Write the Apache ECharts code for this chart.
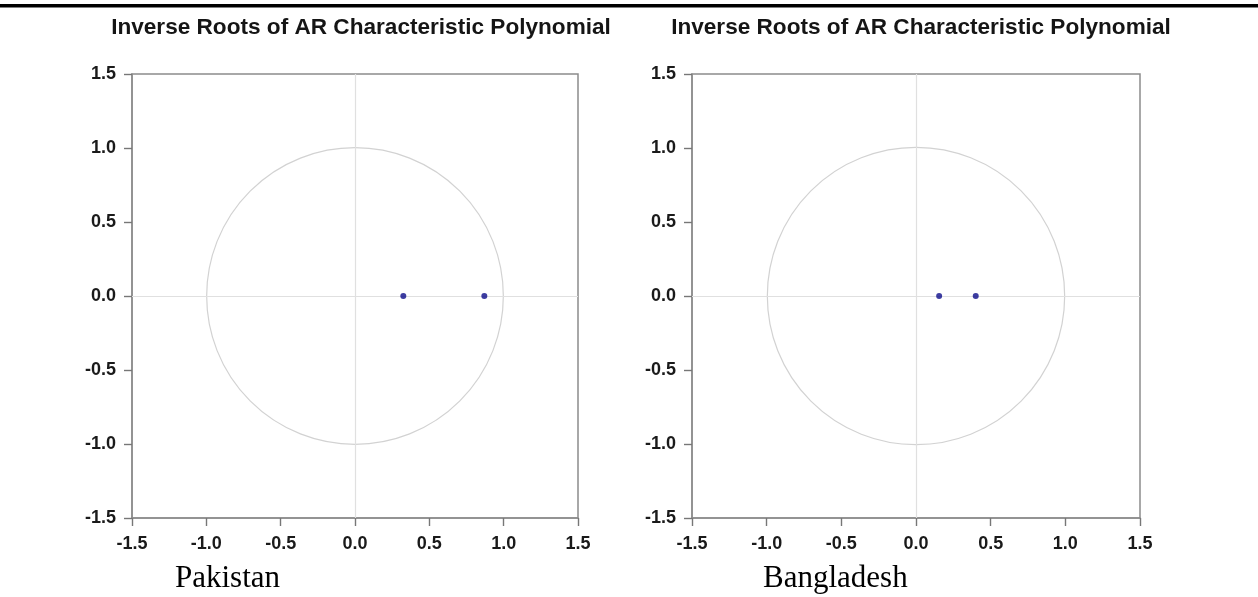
<!DOCTYPE html>
<html lang="en">
<head>
	<meta charset="UTF-8">
	<title>Inverse Roots of AR Characteristic Polynomial</title>
	<style>
		html, body { margin: 0; padding: 0; background: #fff; }
		#chart { width: 1258px; height: 597px; }
	</style>
</head>
<body>
	<div id="chart"></div>
	<script src="https://cdn.jsdelivr.net/npm/echarts@6/dist/echarts.min.js"></script>
	<script>
		// data
		var panelTitle = 'Inverse Roots of AR Characteristic Polynomial';
		var countries = ['Pakistan', 'Bangladesh'];
		var tickValues = [-1.5, -1.0, -0.5, 0.0, 0.5, 1.0, 1.5];
		var tickLabels = ['-1.5', '-1.0', '-0.5', '0.0', '0.5', '1.0', '1.5'];
		var pakistanRoots = [[0.325, 0], [0.87, 0]];
		var bangladeshRoots = [[0.155, 0], [0.40, 0]];
		var unitCircle = [[0, 0, 1]]; // centre x, centre y, radius

		var frameColor = '#8c8c8c';
		var grids = [
			{ left: 132, top: 74, width: 446, height: 444 },
			{ left: 692, top: 74, width: 448, height: 444 }
		];

		function fmt(v) {
			var i = tickValues.indexOf(Math.round(v * 10) / 10);
			return i >= 0 ? tickLabels[i] : '';
		}

		function axis(idx, isX) {
			return {
				type: 'value',
				gridIndex: idx,
				min: -1.5, max: 1.5, interval: 0.5,
				axisLine: { show: true, onZero: false, lineStyle: { color: frameColor, width: 1.5 } },
				axisTick: { show: true, length: 8, lineStyle: { color: '#777', width: 1.4 } },
				splitLine: { show: false },
				axisLabel: {
					formatter: fmt,
					color: '#1a1a1a',
					fontSize: 18,
					fontWeight: 'bold',
					fontFamily: 'Liberation Sans, Arial, sans-serif',
					margin: isX ? 17 : 16
				}
			};
		}

		function circleSeries(idx) {
			return {
				type: 'custom',
				xAxisIndex: idx, yAxisIndex: idx,
				silent: true,
				data: unitCircle,
				renderItem: function (params, api) {
					var c = api.coord([api.value(0), api.value(1)]);
					var s = api.size([api.value(2), api.value(2)]);
					return {
						type: 'circle',
						shape: { cx: c[0], cy: c[1], r: (s[0] + s[1]) / 2 },
						style: { fill: 'none', stroke: '#d2d2d2', lineWidth: 1.2 }
					};
				},
				z: 1
			};
		}

		function rootSeries(idx, data) {
			return {
				type: 'scatter',
				xAxisIndex: idx, yAxisIndex: idx,
				data: data,
				symbol: 'circle',
				symbolSize: 6,
				itemStyle: { color: '#0c0c8a' },
				z: 5,
				markLine: {
					silent: true,
					symbol: 'none',
					label: { show: false },
					lineStyle: { color: '#e0e0e0', type: 'solid', width: 1.2 },
					data: [{ xAxis: 0 }, { yAxis: 0 }],
					animation: false
				}
			};
		}

		var titleStyle = { fontSize: 22.6, fontWeight: 'bold', color: '#151515', fontFamily: 'Liberation Sans, Arial, sans-serif' };
		var nameStyle = { fontSize: 31, fontWeight: 'normal', color: '#000', fontFamily: 'Liberation Serif, Times New Roman, serif' };

		var option = {
			animation: false,
			backgroundColor: '#fff',
			graphic: [
				{ type: 'rect', shape: { x: 0, y: 4, width: 1258, height: 3.5 }, style: { fill: '#000' } }
			],
			title: [
				{ text: panelTitle, left: 356, top: 11, textAlign: 'center', textStyle: titleStyle },
				{ text: panelTitle, left: 916, top: 11, textAlign: 'center', textStyle: titleStyle },
				{ text: countries[0], left: 170, top: 558, textStyle: nameStyle },
				{ text: countries[1], left: 758, top: 558, textStyle: nameStyle }
			],
			grid: grids.map(function (g) {
				return {
					left: g.left, top: g.top, width: g.width, height: g.height,
					show: true, borderColor: frameColor, borderWidth: 1.5,
					backgroundColor: 'transparent'
				};
			}),
			xAxis: [axis(0, true), axis(1, true)],
			yAxis: [axis(0, false), axis(1, false)],
			series: [
				circleSeries(0),
				rootSeries(0, pakistanRoots),
				circleSeries(1),
				rootSeries(1, bangladeshRoots)
			]
		};

		var myChart = echarts.init(document.getElementById('chart'));
		myChart.setOption(option);
	</script>
</body>
</html>
